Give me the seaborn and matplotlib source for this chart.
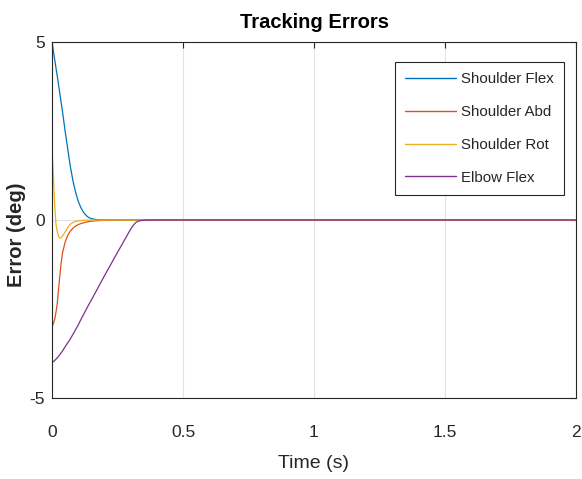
import matplotlib
matplotlib.use("Agg")
import matplotlib.pyplot as plt
import numpy as np
import pandas as pd
import seaborn as sns

# time samples (s)
time_s = [0, 0.005, 0.01, 0.015, 0.02, 0.025, 0.03, 0.035, 0.04, 0.05, 0.06, 0.07,
          0.08, 0.09, 0.10, 0.11, 0.12, 0.13, 0.14, 0.15, 0.17, 0.18, 0.20, 0.24,
          0.28, 0.30, 0.31, 0.32, 0.33, 0.35, 0.40, 0.50, 1.0, 1.5, 2.0]

# tracking errors (deg)
shoulder_flex = [5.0, 4.76, 4.52, 4.28, 4.05, 3.8, 3.55, 3.3, 3.05, 2.5, 2.0, 1.5,
                 1.1, 0.78, 0.53, 0.35, 0.22, 0.13, 0.07, 0.04, 0.012, 0.006, 0.002, 0,
                 0, 0, 0, 0, 0, 0, 0, 0, 0, 0, 0]
shoulder_abd = [-3.0, -2.92, -2.8, -2.6, -2.35, -1.95, -1.55, -1.2, -0.93, -0.62, -0.43, -0.31,
                -0.23, -0.17, -0.13, -0.1, -0.08, -0.06, -0.045, -0.035, -0.02, -0.015, -0.01, -0.003,
                0, 0, 0, 0, 0, 0, 0, 0, 0, 0, 0]
shoulder_rot = [2.0, 1.3, 0.45, -0.1, -0.33, -0.46, -0.51, -0.5, -0.45, -0.34, -0.21, -0.12,
                -0.07, -0.04, -0.025, -0.017, -0.01, -0.007, -0.005, -0.003, -0.001, 0, 0, 0,
                0, 0, 0, 0, 0, 0, 0, 0, 0, 0, 0]
elbow_flex = [-4.0, -3.98, -3.95, -3.91, -3.87, -3.83, -3.78, -3.73, -3.68, -3.56, -3.45, -3.34,
              -3.21, -3.08, -2.95, -2.8, -2.66, -2.52, -2.38, -2.25, -1.98, -1.84, -1.57, -1.04,
              -0.52, -0.26, -0.15, -0.07, -0.03, -0.005, 0, 0, 0, 0, 0]

joints = ["Shoulder Flex", "Shoulder Abd", "Shoulder Rot", "Elbow Flex"]
colors = ["#0072BD", "#D95319", "#EDB120", "#7E2F8E"]

sns.set_theme(style="white")
plt.rcParams["font.family"] = ["Liberation Sans", "DejaVu Sans"]
plt.rcParams["axes.unicode_minus"] = False

frames = []
for name, vals in zip(joints, [shoulder_flex, shoulder_abd, shoulder_rot, elbow_flex]):
    frames.append(pd.DataFrame({"time": time_s, "error": vals, "joint": name}))
df = pd.concat(frames, ignore_index=True)

fig = plt.figure(figsize=(5.82, 4.79), dpi=100)
ax = fig.add_axes([52 / 582, 1 - 398 / 479, 524 / 582, 356 / 479])

sns.lineplot(data=df, x="time", y="error", hue="joint", hue_order=joints,
             palette=colors, estimator=None, sort=False, linewidth=0.9, ax=ax)

ax.set_xlim(0, 2)
ax.set_ylim(-5, 5)
ax.set_xticks([0, 0.5, 1, 1.5, 2])
ax.set_xticklabels(["0", "0.5", "1", "1.5", "2"])
ax.set_yticks([-5, 0, 5])
ax.grid(True, color="#e3e3e3", linewidth=0.8)
ax.set_axisbelow(True)

for sp in ax.spines.values():
    sp.set_color("#262626")
    sp.set_linewidth(0.8)
    sp.set_visible(True)

ax.tick_params(axis="both", direction="in", length=4, width=0.8, color="#262626",
               labelcolor="#262626", top=True, right=True, labelsize=12.5)
ax.tick_params(axis="x", pad=19.5)
ax.tick_params(axis="y", pad=5)

ax.set_title("Tracking Errors", fontsize=14.5, fontweight="bold", pad=10, color="black")
ax.set_xlabel("Time (s)", fontsize=14, color="#262626")
ax.xaxis.set_label_coords(0.5, -0.16)
ax.set_ylabel("Error (deg)", fontsize=14.5, fontweight="bold", color="#262626")
ax.yaxis.set_label_coords(-0.05, 0.458)

leg = ax.legend(loc="upper right", bbox_to_anchor=(0.977, 0.944), borderaxespad=0,
                fontsize=10.8, handlelength=3.4, labelspacing=1.25, frameon=True,
                fancybox=False, edgecolor="#262626", framealpha=1, borderpad=0.7,
                handletextpad=0.3)
leg.get_frame().set_linewidth(0.8)
for line in leg.get_lines():
    line.set_linewidth(1.0)

fig.savefig("out.png", dpi=100)
plt.close(fig)
